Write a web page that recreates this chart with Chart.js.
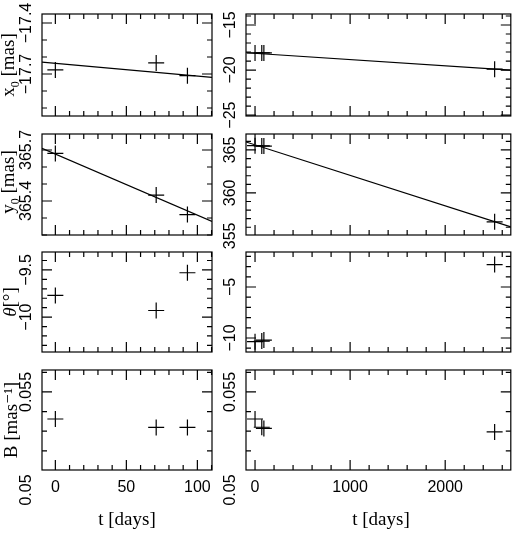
<!DOCTYPE html>
<html><head><meta charset="utf-8">
<script src="https://cdn.jsdelivr.net/npm/chart.js@4"></script>
<style>
body{margin:0;background:#fff;width:520px;height:535px;position:relative;overflow:hidden}
canvas{position:absolute;left:0;top:0}
.t{position:absolute;font-family:"Liberation Serif","DejaVu Serif",serif;font-size:19px;color:#000;white-space:nowrap}
.r{transform:translate(-50%,-50%) rotate(-90deg)}
</style></head><body>
<script>
// ---- data ----
const tShort = [0, 71, 93];
const tLong = [0, 71, 93, 2520];
const x0Short = [-17.676, -17.635, -17.71];
const x0Long = [-18.1, -18.1, -18.1, -19.9];
const x0FitShort = [-17.63, -17.72];
const x0FitLong = [-18.08, -20.0];
const y0Short = [365.68, 365.435, 365.32];
const y0Long = [365.5, 365.47, 365.45, 356.63];
const y0FitShort = [365.71, 365.28];
const y0FitLong = [365.93, 356.05];
const thetaShort = [-9.77, -9.93, -9.53];
const thetaLong = [-10.36, -10.3, -10.2, -2.8];
const bShort = [0.05362, 0.05319, 0.05319];
const bLong = [0.05362, 0.0532, 0.05314, 0.05296];
const xLabelsShort = [0, 50, 100];
const xLabelsLong = [0, 1000, 2000];
const yLabX0Short = [-17.4, -17.7];
const yLabX0Long = [-15, -20, -25];
const yLabY0Short = [365.7, 365.4];
const yLabY0Long = [365, 360, 355];
const yLabThShort = [-9.5, -10];
const yLabThLong = [-5, -10];
const yLabB = [0.055, 0.05];

const W=520,H=535;
const cols=[[42,212],[246,517]];
const rows=[[14,116],[134,235],[252,352],[370,470]];
const xr=[{min:-9.4,max:110.3,step:10,labels:xLabelsShort},{min:-95,max:2690,step:200,labels:xLabelsLong}];

const panels=[
 {r:0,c:0,ymin:-17.947,ymax:-17.347,step:0.1,labels:yLabX0Short,t:tShort,v:x0Short,fit:x0FitShort},
 {r:0,c:1,ymin:-25.1,ymax:-13.78,step:1,labels:yLabX0Long,t:tLong,v:x0Long,fit:x0FitLong},
 {r:1,c:0,ymin:365.2,ymax:365.794,step:0.1,labels:yLabY0Short,t:tShort,v:y0Short,fit:y0FitShort},
 {r:1,c:1,ymin:355.1,ymax:366.86,step:1,labels:yLabY0Long,t:tLong,v:y0Long,fit:y0FitLong},
 {r:2,c:0,ymin:-10.37,ymax:-9.31,step:0.1,labels:yLabThShort,t:tShort,v:thetaShort},
 {r:2,c:1,ymin:-11.37,ymax:-1.57,step:1,labels:yLabThLong,t:tLong,v:thetaLong},
 {r:3,c:0,ymin:0.05102,ymax:0.05612,step:0.001,labels:yLabB,t:tShort,v:bShort},
 {r:3,c:1,ymin:0.05102,ymax:0.05612,step:0.001,labels:yLabB,t:tLong,v:bLong}
];
const FONT='16px "Liberation Sans","DejaVu Sans",sans-serif';
function near(a,b,s){return Math.abs(a-b)<s*1e-3;}
function fmt(v){return String(v).replace('-','\u2212');}

const axesPlugin={id:'pg',afterDraw(ch,a,o){
  const p=ch.options.plugins.pg; const ctx=ch.ctx; const ca=ch.chartArea;
  const xs=ch.scales.x, ys=ch.scales.y;
  ctx.save(); ctx.strokeStyle='#000'; ctx.lineWidth=1.2;
  ctx.strokeRect(ca.left,ca.top,ca.right-ca.left,ca.bottom-ca.top);
  ctx.beginPath();
  for(let v=Math.ceil(xs.min/p.xstep)*p.xstep; v<=xs.max; v+=p.xstep){
    const maj=p.xlabels.some(l=>near(l,v,p.xstep)); const L=maj?10:5;
    const px=xs.getPixelForValue(v);
    ctx.moveTo(px,ca.bottom);ctx.lineTo(px,ca.bottom-L);
    ctx.moveTo(px,ca.top);ctx.lineTo(px,ca.top+L);
  }
  for(let v=Math.ceil(ys.min/p.ystep-1e-6)*p.ystep; v<=ys.max+1e-9; v+=p.ystep){
    const maj=p.ylabels.some(l=>near(l,v,p.ystep)); const L=maj?10:5;
    const py=ys.getPixelForValue(v);
    ctx.moveTo(ca.left,py);ctx.lineTo(ca.left+L,py);
    ctx.moveTo(ca.right,py);ctx.lineTo(ca.right-L,py);
  }
  ctx.stroke();
  ctx.fillStyle='#000'; ctx.font=FONT; ctx.textAlign='center'; ctx.textBaseline='middle';
  p.ylabels.forEach(l=>{
    const py=ys.getPixelForValue(l);
    ctx.save(); ctx.translate(ca.left-15,py); ctx.rotate(-Math.PI/2); ctx.fillText(fmt(l),0,0); ctx.restore();
  });
  if(p.showX){ p.xlabels.forEach(l=>{ ctx.fillText(fmt(l),xs.getPixelForValue(l),ca.bottom+18); }); }
  ctx.restore();
}};

panels.forEach(pn=>{
  const cv=document.createElement('canvas'); cv.width=W; cv.height=H;
  cv.style.width=W+'px'; cv.style.height=H+'px'; document.body.appendChild(cv);
  const [l,r]=cols[pn.c],[t,b]=rows[pn.r],X=xr[pn.c];
  const ds=[{type:'scatter',data:pn.t.map((x,i)=>({x,y:pn.v[i]})),pointStyle:'cross',pointRadius:8,
    borderColor:'#000',borderWidth:1.2,backgroundColor:'#000'}];
  if(pn.fit) ds.push({type:'line',data:[{x:X.min,y:pn.fit[0]},{x:X.max,y:pn.fit[1]}],borderColor:'#000',
    borderWidth:1.2,pointRadius:0,fill:false});
  new Chart(cv,{type:'scatter',data:{datasets:ds},options:{
    responsive:false,animation:false,devicePixelRatio:1,
    layout:{padding:{left:l,top:t,right:W-r,bottom:H-b}},
    plugins:{legend:{display:false},tooltip:{enabled:false},
      pg:{xstep:X.step,xlabels:X.labels,ystep:pn.step,ylabels:pn.labels,showX:pn.r===3}},
    scales:{
      x:{type:'linear',min:X.min,max:X.max,display:false},
      y:{type:'linear',min:pn.ymin,max:pn.ymax,display:false}
    }},plugins:[axesPlugin]});
});
</script>
<div class="t r" style="left:10px;top:65px">x<sub style="font-size:12px">0</sub> [mas]</div>
<div class="t r" style="left:10px;top:182px">y<sub style="font-size:12px">0</sub> [mas]</div>
<div class="t r" style="left:10px;top:302px"><i>θ</i>[°]</div>
<div class="t r" style="left:10px;top:420px">B [mas⁻¹]</div>
<div class="t" style="left:127px;top:508px;transform:translateX(-50%)">t [days]</div>
<div class="t" style="left:381px;top:508px;transform:translateX(-50%)">t [days]</div>
</body></html>
